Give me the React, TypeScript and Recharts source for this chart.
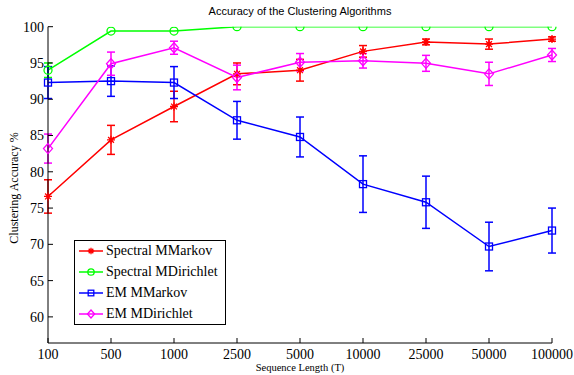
import { ErrorBar, Line, LineChart, XAxis, YAxis } from "recharts";

const lengths = ["100", "500", "1000", "2500", "5000", "10000", "25000", "50000", "100000"];

const spectralMarkov = [76.6, 84.4, 89.0, 93.5, 94.0, 96.6, 97.9, 97.6, 98.3];
const spectralMarkovErr = [2.3, 2.0, 2.1, 1.5, 1.5, 0.8, 0.4, 0.7, 0.3];

const spectralDirichlet = [94.0, 99.4, 99.4, 100, 100, 100, 100, 100, 100];
const spectralDirichletErr = [1.0, 0, 0, 0, 0, 0, 0, 0, 0];

const emMarkov = [92.3, 92.5, 92.3, 87.1, 84.8, 78.3, 75.8, 69.7, 71.9];
const emMarkovErr = [2.2, 2.1, 2.2, 2.6, 2.75, 3.9, 3.6, 3.35, 3.1];

const emDirichlet = [83.2, 94.9, 97.1, 93.0, 95.1, 95.3, 94.95, 93.5, 96.1];
const emDirichletErr = [2.0, 1.6, 0.9, 1.7, 1.2, 1.0, 1.1, 1.6, 0.9];

const yTicks = [60, 65, 70, 75, 80, 85, 90, 95, 100];

type Marker = "star" | "circle" | "square" | "diamond";

const series: { key: string; name: string; color: string; marker: Marker }[] = [
  { key: "smm", name: "Spectral MMarkov", color: "#ff0000", marker: "star" },
  { key: "smd", name: "Spectral MDirichlet", color: "#00ff00", marker: "circle" },
  { key: "emm", name: "EM MMarkov", color: "#0000ff", marker: "square" },
  { key: "emd", name: "EM MDirichlet", color: "#ff00ff", marker: "diamond" },
];

const data = lengths.map((len, i) => ({
  len,
  smm: spectralMarkov[i],
  smmErr: spectralMarkovErr[i],
  smd: spectralDirichlet[i],
  smdErr: spectralDirichletErr[i],
  emm: emMarkov[i],
  emmErr: emMarkovErr[i],
  emd: emDirichlet[i],
  emdErr: emDirichletErr[i],
}));

const serif = "'Liberation Serif', 'Times New Roman', serif";
const sans = "'Liberation Sans', Arial, sans-serif";

function markerShape(marker: Marker, cx: number, cy: number, color: string, k = 1) {
  const sw = 1.3;
  if (marker === "circle") {
    return <circle cx={cx} cy={cy} r={4 * k} fill="none" stroke={color} strokeWidth={sw} />;
  }
  if (marker === "square") {
    const h = 3.5 * k;
    return <rect x={cx - h} y={cy - h} width={2 * h} height={2 * h} fill="none" stroke={color} strokeWidth={sw} />;
  }
  if (marker === "diamond") {
    const w = 4.5 * k;
    const t = 5 * k;
    return (
      <path
        d={`M${cx},${cy - t}L${cx + w},${cy}L${cx},${cy + t}L${cx - w},${cy}Z`}
        fill="none"
        stroke={color}
        strokeWidth={sw}
      />
    );
  }
  const r = 4 * k;
  const d = 2.9 * k;
  return (
    <path
      d={`M${cx - r},${cy}H${cx + r}M${cx},${cy - r}V${cy + r}M${cx - d},${cy - d}L${cx + d},${cy + d}M${cx - d},${cy + d}L${cx + d},${cy - d}`}
      stroke={color}
      strokeWidth={sw}
    />
  );
}

function XTick(props: any) {
  const { x, y, payload } = props;
  return (
    <text x={x} y={y} dy="0.71em" textAnchor="middle" fill="#000" fontSize={14} fontFamily={serif}>
      {payload.value}
    </text>
  );
}

function YTick(props: any) {
  const { x, y, payload } = props;
  return (
    <text x={x} y={y} dy="0.355em" textAnchor="end" fill="#000" fontSize={14} fontFamily={serif}>
      {payload.value}
    </text>
  );
}

function LegendBox() {
  return (
    <div
      style={{
        position: "absolute",
        left: 74,
        top: 240,
        border: "1px solid #000",
        background: "#fff",
        width: 152,
        height: 85,
        boxSizing: "border-box",
        padding: "0 0 0 4px",
        fontFamily: serif,
        fontSize: 14,
        color: "#000",
      }}
    >
      {series.map((s) => (
        <div key={s.key} style={{ display: "flex", alignItems: "center", height: 20.8 }}>
          <svg width={25} height={14} style={{ marginRight: 2 }}>
            <line x1={0} y1={7} x2={24} y2={7} stroke={s.color} strokeWidth={1.5} />
            {markerShape(s.marker, 12, 7, s.color, 0.8)}
          </svg>
          <span>{s.name}</span>
        </div>
      ))}
    </div>
  );
}

export default function App() {
  return (
    <div
      style={{
        position: "absolute",
        left: 0,
        top: 0,
        width: 574,
        height: 375,
        background: "#fff",
        fontFamily: serif,
      }}
    >
      <LineChart
        width={574}
        height={375}
        data={data}
        margin={{ top: 26.7, right: 22, bottom: 31, left: 8 }}
      >
        <XAxis
          dataKey="len"
          scale="point"
          padding={{ left: 0, right: 0 }}
          height={1}
          tickSize={-5}
          tickMargin={11}
          interval={0}
          axisLine={{ stroke: "#000" }}
          tickLine={{ stroke: "#000" }}
          tick={<XTick />}
        />
        <YAxis
          width={40}
          type="number"
          domain={[56.4, 100]}
          ticks={yTicks}
          allowDataOverflow
          tickSize={-5}
          tickMargin={9}
          axisLine={{ stroke: "#000" }}
          tickLine={{ stroke: "#000" }}
          tick={<YTick />}
        />
        {series.map((s) => (
          <Line
            key={s.key}
            dataKey={s.key}
            name={s.name}
            stroke={s.color}
            strokeWidth={1.5}
            isAnimationActive={false}
            dot={(p: any) => <g key={`${s.key}-${p.index}`}>{markerShape(s.marker, p.cx, p.cy, s.color)}</g>}
            activeDot={false}
          >
            <ErrorBar
              dataKey={`${s.key}Err`}
              direction="y"
              width={4}
              stroke={s.color}
              strokeWidth={1.5}
              isAnimationActive={false}
            />
          </Line>
        ))}
      </LineChart>
      <div
        style={{
          position: "absolute",
          top: 5,
          left: 0,
          width: 600,
          textAlign: "center",
          fontFamily: sans,
          fontSize: 11,
          color: "#000",
        }}
      >
        Accuracy of the Clustering Algorithms
      </div>
      <div
        style={{
          position: "absolute",
          left: 14,
          top: 188,
          transform: "translate(-50%, -50%) rotate(-90deg)",
          whiteSpace: "nowrap",
          fontSize: 12,
          color: "#000",
        }}
      >
        Clustering Accuracy %
      </div>
      <div
        style={{
          position: "absolute",
          left: 300,
          top: 368,
          transform: "translate(-50%, -50%)",
          whiteSpace: "nowrap",
          fontSize: 10.5,
          lineHeight: 1,
          color: "#000",
        }}
      >
        Sequence Length (T)
      </div>
      <LegendBox />
    </div>
  );
}
